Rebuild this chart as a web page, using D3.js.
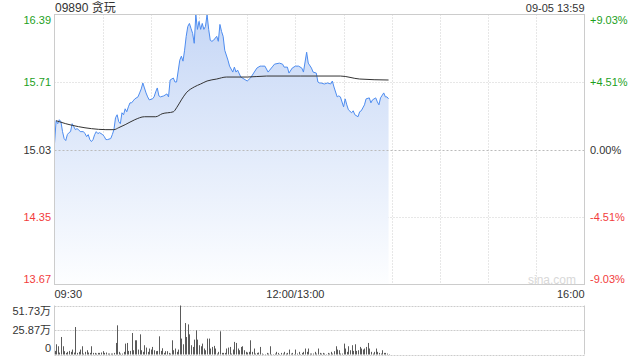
<!DOCTYPE html>
<html>
<head>
<meta charset="utf-8">
<script src="https://cdn.jsdelivr.net/npm/d3@7"></script>
<style>
  body { margin: 0; background: #fff; }
  svg text { font-family: "Liberation Sans", Arial, "Noto Sans CJK SC", sans-serif; }
</style>
</head>
<body>
<svg width="640" height="360"></svg>
<script>
// Data (minutes since 09:30, lunch break removed)
var priceMin = [0,1,2,3,4,5,6,7,8,9,10,11,12,13,14,15,16,18,19,20,21,22,23,24,25,26,27,28,30,31,32,33,35,36,37,38,39,40,41,42,43,44,45,46,47,48,49,50,52,53,54,55,56,57,58,59,61,62,63,64,65,66,68,70,71,72,74,75,76,78,79,80,81,82,83,84,85,86,87,88,89,90,91,92,93,94,95,96,97,98,99,101,102,103,104,105,106,108,109,111,112,113,114,116,118,120,122,124,126,128,129,131,133,134,136,137,140,142,143,145,146,148,150,152,154,155,157,158,160,161,163,164,165,166,168,170,172,173,174,176,177,178,180,181,182,183,185,186,187,189,190,191,193,194,196,197,198,200,201,202,203,205,206,207,208];
var priceVal = [15.09,15.32,15.29,15.33,15.31,15.21,15.14,15.12,15.18,15.20,15.21,15.29,15.26,15.23,15.24,15.23,15.21,15.21,15.19,15.16,15.18,15.13,15.11,15.13,15.18,15.21,15.19,15.20,15.18,15.16,15.13,15.13,15.14,15.18,15.23,15.35,15.38,15.31,15.29,15.40,15.38,15.44,15.41,15.46,15.50,15.50,15.52,15.54,15.56,15.60,15.64,15.70,15.65,15.60,15.56,15.53,15.54,15.56,15.61,15.65,15.57,15.56,15.57,15.59,15.56,15.73,15.75,15.71,15.71,15.93,15.97,15.92,16.03,16.17,16.27,16.30,16.25,16.20,16.10,16.39,16.24,16.32,16.24,16.30,16.24,16.27,16.39,16.24,16.13,16.12,16.13,16.17,16.12,16.29,16.22,16.17,16.03,15.93,15.87,15.81,15.86,15.81,15.83,15.76,15.74,15.72,15.75,15.80,15.85,15.87,15.87,15.87,15.81,15.83,15.87,15.89,15.90,15.89,15.86,15.86,15.80,15.85,15.87,15.87,15.85,15.81,16.01,15.90,15.85,15.81,15.80,15.71,15.70,15.70,15.69,15.70,15.69,15.72,15.66,15.56,15.57,15.56,15.46,15.54,15.48,15.43,15.40,15.42,15.38,15.36,15.41,15.42,15.48,15.54,15.55,15.50,15.53,15.55,15.51,15.48,15.55,15.60,15.56,15.56,15.54];

var avgMin = [1,7,15,23,32,37,40,44,50,56,63,67,74,76,79,82,87,91,95,101,107,120,132,153,163,178,190,208];
var avgVal = [15.32,15.29,15.26,15.24,15.23,15.23,15.25,15.28,15.33,15.36,15.36,15.39,15.41,15.45,15.53,15.60,15.66,15.69,15.72,15.74,15.76,15.76,15.77,15.77,15.77,15.77,15.74,15.73];

// volume per minute, in 万
var volume = [3.8,10.8,8.7,2,18.5,8.7,3.5,1.7,2.8,3.8,2.8,5.2,2,29.0,1.7,2.8,5.2,8.7,1,2.8,4.5,2.1,1.7,8.7,1.7,1.7,1,1.7,1.7,2.1,
  3.5,1.7,2.1,1,1,1,1,1.7,12.2,30.8,2.8,1,1,2.8,11.5,12.2,3.8,3.8,22.7,4.5,15,15,5.2,21.3,4.5,2.8,9.8,7.3,2.8,6.3,
  5.2,8,4.5,3.5,3.8,19.2,3.8,6.6,1.7,3.5,3.5,1.7,1,15,4.5,6.3,2.8,5.2,51.73,16.8,10.8,33.2,18.5,31.8,21.3,9.8,8,15.7,25.5,15.7,
  9.8,8.7,11.5,6.3,4.5,16.8,16.8,6.3,8,9.1,6.3,1,2.8,24.5,1.7,1.7,1.7,6.3,7.3,8,1,5.2,13.3,12.2,6.3,4.5,8,8.7,4.5,2.8,
  2.1,2.8,15,2.8,6.3,1,1.7,2.1,8,1,0.4,0.4,1.7,1,8.7,0.4,0.4,1,2.8,1.7,0.4,1.7,1,2.8,1,1.7,5.2,1,1.7,0.4,
  5.2,1,2.8,0.4,1.7,2.8,6.3,2.8,6.3,1,1,1,2.8,1,6.3,1.7,1,1.7,1,0.4,1.7,1,2.8,1,3.5,8.7,5.2,4.5,1,1,
  11.5,6.3,2.8,8.7,4.5,9.8,3.8,10.8,3.8,4.5,8,6.3,5.2,6.3,8,12.2,6.3,2.8,1,2.8,6.3,2.8,1.7,1,4.5,1.7,1.7,1,0.4];

var priceTicks = [16.39, 15.71, 15.03, 14.35, 13.67];
var pctTicks = ["+9.03%", "+4.51%", "0.00%", "-4.51%", "-9.03%"];
var timeTickMin = [0, 150, 330];
var timeTickLabels = ["09:30", "12:00/13:00", "16:00"];
var volTicks = [51.73, 25.87, 0];
var volTickLabels = ["51.73万", "25.87万", "0"];
var title = "09890 贪玩";
var stamp = "09-05 13:59";

var svg = d3.select("svg");

var L = 54.5, R = 584.5, T = 14.5, B = 284.5;
var VT = 305.5, VB = 354.5;

var x = d3.scaleLinear().domain([0, 330]).range([L, R]);
var y = d3.scaleLinear().domain([13.67, 16.39]).range([B, T]);
var yv = d3.scaleLinear().domain([0, 51.73]).range([VB, VT]);

var green = "#1d9f1d", red = "#f23c3c", dark = "#333";
function tickColor(i) { return i < 2 ? green : (i == 2 ? dark : red); }

// gradient
var defs = svg.append("defs");
var grad = defs.append("linearGradient")
  .attr("id", "fillGrad")
  .attr("gradientUnits", "userSpaceOnUse")
  .attr("x1", 0).attr("y1", T).attr("x2", 0).attr("y2", B);
grad.append("stop").attr("offset", "0%").attr("stop-color", "#c6d7f6");
grad.append("stop").attr("offset", "100%").attr("stop-color", "#fdfeff");

// grid
var grid = svg.append("g").attr("class", "grid");
grid.selectAll(".vgrid")
  .data(d3.range(30, 330, 30))
  .enter().append("line")
  .attr("x1", d => Math.round(x(d)) + 0.5).attr("x2", d => Math.round(x(d)) + 0.5)
  .attr("y1", T).attr("y2", B)
  .attr("stroke", "#cfcfcf").attr("stroke-dasharray", "1,2");
grid.selectAll(".hgrid")
  .data([15.71, 14.35])
  .enter().append("line")
  .attr("x1", L).attr("x2", R)
  .attr("y1", d => Math.round(y(d)) + 0.5).attr("y2", d => Math.round(y(d)) + 0.5)
  .attr("stroke", "#cfcfcf").attr("stroke-dasharray", "1,2");

// area + lines
var area = d3.area()
  .x((d, i) => x(priceMin[i]))
  .y0(B)
  .y1(d => y(d));
svg.append("path")
  .datum(priceVal)
  .attr("d", area)
  .attr("fill", "url(#fillGrad)");

// previous close line
svg.append("line")
  .attr("x1", L).attr("x2", R)
  .attr("y1", Math.round(y(15.03)) + 0.5).attr("y2", Math.round(y(15.03)) + 0.5)
  .attr("stroke", "#bbb").attr("stroke-dasharray", "2,2");

var line = d3.line()
  .x((d, i) => x(priceMin[i]))
  .y(d => y(d));
svg.append("path")
  .datum(priceVal)
  .attr("d", line)
  .attr("fill", "none")
  .attr("stroke", "#4d8cf0")
  .attr("stroke-width", 1);

var avgLine = d3.line()
  .x((d, i) => x(avgMin[i]))
  .y(d => y(d))
  .curve(d3.curveMonotoneX);
svg.append("path")
  .datum(avgVal)
  .attr("d", avgLine)
  .attr("fill", "none")
  .attr("stroke", "#333")
  .attr("stroke-width", 1);

// border
svg.append("rect")
  .attr("x", L).attr("y", T).attr("width", R - L).attr("height", B - T)
  .attr("fill", "none").attr("stroke", "#ccc");

// price labels
svg.selectAll(".plab")
  .data(priceTicks)
  .enter().append("text")
  .attr("x", 51)
  .attr("y", (d, i) => i == 0 ? y(d) + 9 : (i == 4 ? y(d) - 2 : y(d) + 4))
  .attr("text-anchor", "end")
  .attr("font-size", 11)
  .attr("fill", (d, i) => tickColor(i))
  .text(d => d.toFixed(2));
svg.selectAll(".pctlab")
  .data(pctTicks)
  .enter().append("text")
  .attr("x", 590)
  .attr("y", (d, i) => i == 0 ? y(priceTicks[i]) + 9 : (i == 4 ? y(priceTicks[i]) - 2 : y(priceTicks[i]) + 4))
  .attr("font-size", 11)
  .attr("fill", (d, i) => tickColor(i))
  .text(d => d);

// time labels
svg.selectAll(".tlab")
  .data(timeTickMin)
  .enter().append("text")
  .attr("x", d => x(d))
  .attr("y", 298)
  .attr("text-anchor", (d, i) => i == 0 ? "start" : (i == 1 ? "middle" : "end"))
  .attr("font-size", 11)
  .attr("fill", dark)
  .text((d, i) => timeTickLabels[i]);

// title + stamp
svg.append("text").attr("x", 55).attr("y", 12).attr("font-size", 12).attr("fill", dark).text(title);
svg.append("text").attr("x", R).attr("y", 12).attr("text-anchor", "end").attr("font-size", 11).attr("fill", dark).text(stamp);

// watermark
svg.append("text").attr("x", 552).attr("y", 284).attr("text-anchor", "middle")
  .attr("font-size", 12).attr("fill", "#d8d8d8").text("sina.com");

// volume panel
var vp = svg.append("g").attr("class", "vol");
vp.selectAll(".vgl")
  .data(volTicks)
  .enter().append("line")
  .attr("x1", L).attr("x2", R)
  .attr("y1", d => Math.round(yv(d)) + 0.5).attr("y2", d => Math.round(yv(d)) + 0.5)
  .attr("stroke", "#ccc").attr("stroke-dasharray", "2,1");
vp.append("line").attr("x1", L).attr("x2", L).attr("y1", VT).attr("y2", VB).attr("stroke", "#ccc");
vp.append("line").attr("x1", R).attr("x2", R).attr("y1", VT).attr("y2", VB).attr("stroke", "#ccc");

vp.selectAll(".bar")
  .data(volume)
  .enter().append("rect")
  .attr("x", (d, i) => Math.round(x(i)))
  .attr("width", 1)
  .attr("y", d => yv(d))
  .attr("height", d => VB - yv(d))
  .attr("fill", "#5a5a5a");

vp.selectAll(".vlab")
  .data(volTicks)
  .enter().append("text")
  .attr("x", 51)
  .attr("y", (d, i) => i == 0 ? yv(d) + 9 : (i == 2 ? yv(d) - 3 : yv(d) + 4))
  .attr("text-anchor", "end")
  .attr("font-size", 11)
  .attr("fill", dark)
  .text((d, i) => volTickLabels[i]);
</script>
</body>
</html>
